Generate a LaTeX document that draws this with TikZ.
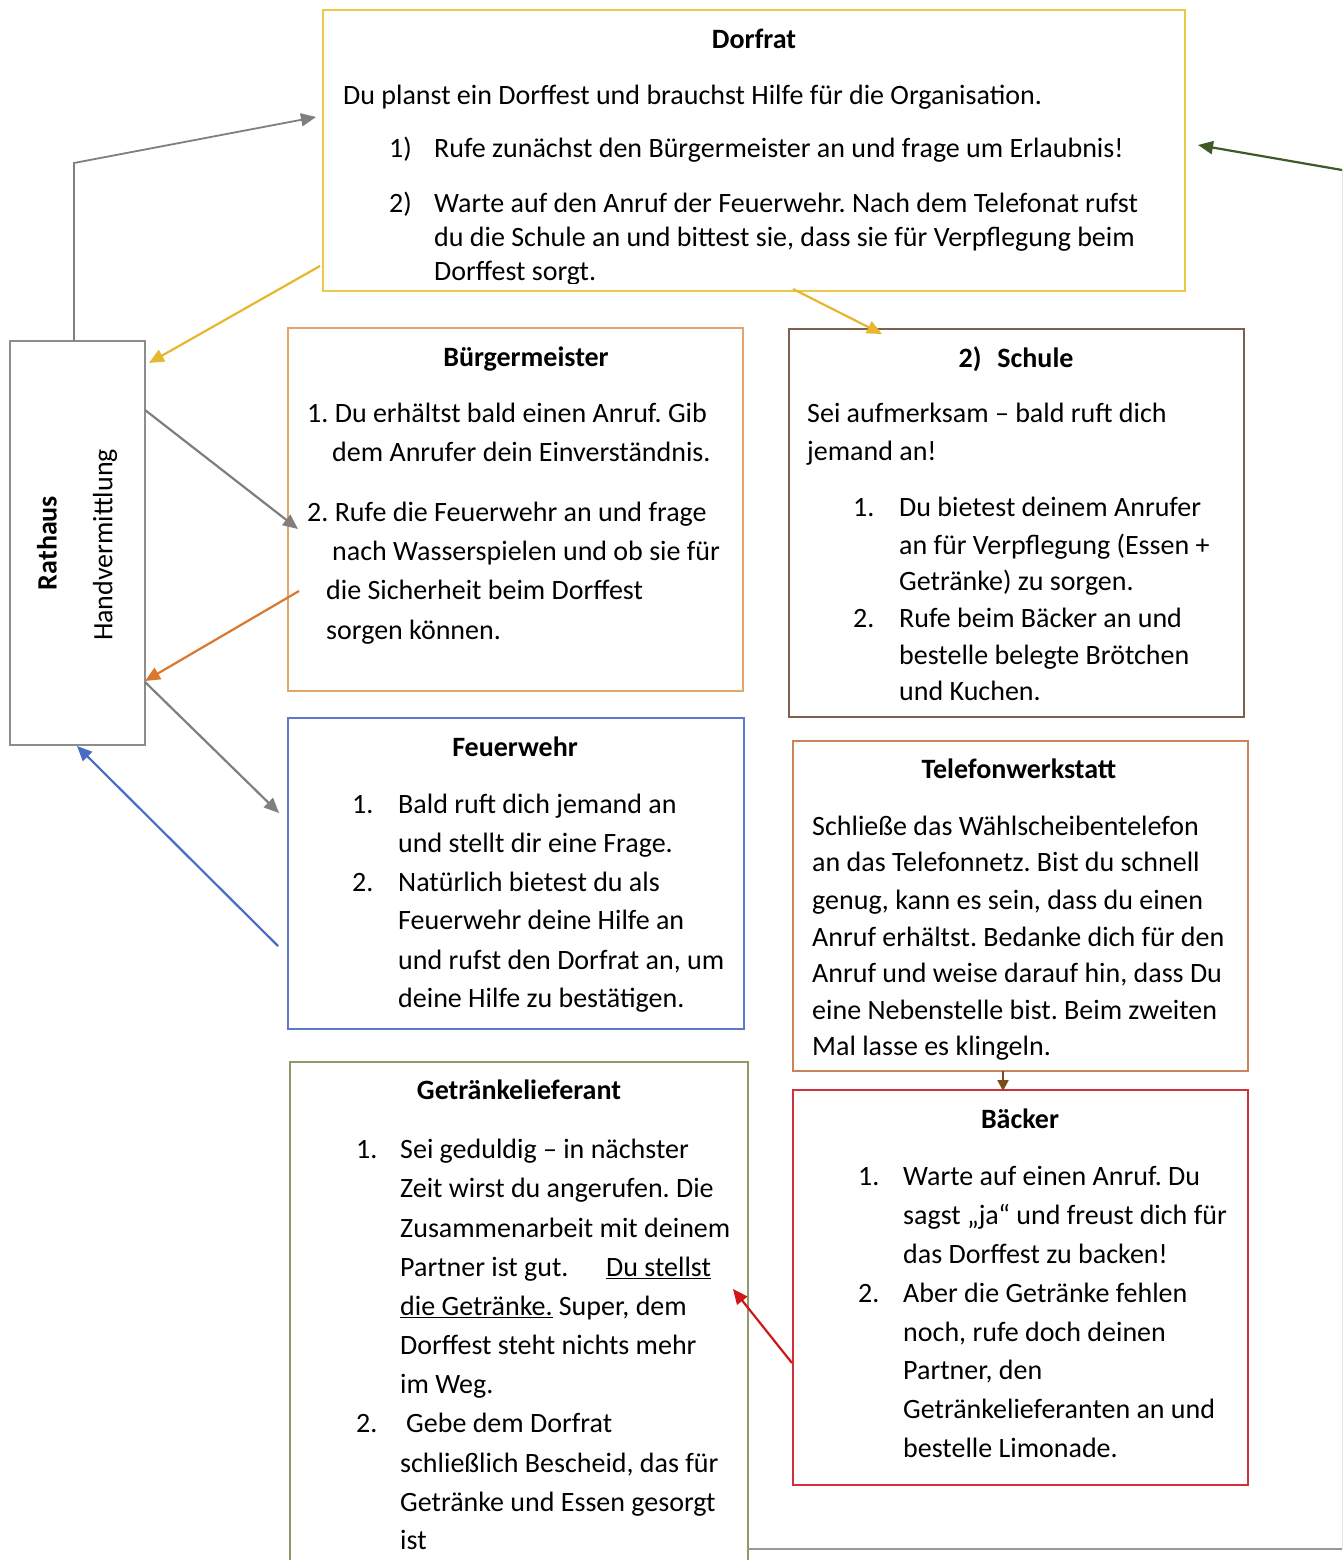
\documentclass[tikz,border=0pt]{standalone}
\usepackage{fontspec}
\setmainfont{Carlito}
\usetikzlibrary{arrows.meta}
\frenchspacing
\definecolor{cDorf}{HTML}{E9C84A}
\definecolor{cYel}{HTML}{E5B830}
\definecolor{cGray}{HTML}{8C8C8C}
\definecolor{cArrGray}{HTML}{7F7F7F}
\definecolor{cBuerg}{HTML}{E2A56A}
\definecolor{cOrg}{HTML}{D9782E}
\definecolor{cSchule}{HTML}{7F6050}
\definecolor{cFeuer}{HTML}{5B7BC8}
\definecolor{cBlue}{HTML}{4A6CC4}
\definecolor{cTel}{HTML}{C8845A}
\definecolor{cBrown}{HTML}{7F4A1A}
\definecolor{cBaeck}{HTML}{D0303A}
\definecolor{cRed}{HTML}{D01818}
\definecolor{cGetr}{HTML}{8E9A6A}
\definecolor{cGreen}{HTML}{3D5A28}
\newcommand\txtnode[4]{\node[txt] (#1) at (#2,#3) {#4};}
\newcommand\ttlnode[4]{\node[ttl] (#1) at (#2,#3) {#4};}
\begin{document}
\begin{tikzpicture}[x=1pt,y=-1pt,
  box/.style={draw=#1, line width=2pt, inner sep=0pt, outer sep=0pt, fill=none},
  txt/.style={anchor=base west, inner sep=0pt, yshift=-1.5pt, font=\fontsize{28}{33}\selectfont},
  ttl/.style={anchor=base, inner sep=0pt, yshift=-1.5pt, font=\fontsize{28}{33}\selectfont\bfseries},
  arr/.style={line width=2.2pt, -{Triangle[length=15pt,width=13pt]}},
]
\clip (0,0) rectangle (1343,1560);
\fill[white] (0,0) rectangle (1343,1560);

% boxes
\node[box=cDorf, minimum width=862pt, minimum height=281pt] (dorf) at (754,150.5) {};
\node[box=cGray, minimum width=135pt, minimum height=404pt] (rat) at (77.5,543) {};
\node[box=cBuerg, minimum width=455pt, minimum height=363pt] (buerg) at (515.5,509.5) {};
\node[box=cSchule, minimum width=455pt, minimum height=388pt] (schule) at (1016.5,523) {};
\node[box=cFeuer, minimum width=456pt, minimum height=311pt] (feuer) at (516,873.5) {};
\node[box=cTel, minimum width=455pt, minimum height=330pt] (tel) at (1020.5,906) {};
\node[box=cBaeck, minimum width=455pt, minimum height=395pt] (baeck) at (1020.5,1287.5) {};
\node[box=cGetr, minimum width=458pt, minimum height=530pt] (getr) at (519,1327) {};

% Dorfrat text
\ttlnode{d0}{754}{47}{Dorfrat}
\txtnode{d1}{343}{103}{Du planst ein Dorffest und brauchst Hilfe für die Organisation.}
\txtnode{d2n}{389}{156}{1)}
\txtnode{d2}{434}{156}{Rufe zunächst den Bürgermeister an und frage um Erlaubnis!}
\txtnode{d3n}{389}{211}{2)}
\txtnode{d3}{434}{211}{Warte auf den Anruf der Feuerwehr. Nach dem Telefonat rufst}
\txtnode{d4}{434}{245}{du die Schule an und bittest sie, dass sie für Verpflegung beim}
\begin{scope}
\clip (323,10) rectangle (1185,283);
\txtnode{d5}{434}{279}{Dorffest sorgt.}
\end{scope}

% Rathaus text
\node[rotate=90, inner sep=0pt, font=\fontsize{28}{33}\selectfont\bfseries] (r1) at (47,543) {Rathaus};
\node[rotate=90, inner sep=0pt, font=\fontsize{28}{33}\selectfont] (r2) at (105,545) {Handvermittlung};

% Buergermeister text
\ttlnode{b0}{526}{365}{Bürgermeister}
\txtnode{b1}{307}{421}{1. Du erhältst bald einen Anruf. Gib}
\txtnode{b2}{332}{460}{dem Anrufer dein Einverständnis.}
\txtnode{b3}{307}{520}{2. Rufe die Feuerwehr an und frage}
\txtnode{b4}{332}{559}{nach Wasserspielen und ob sie für}
\txtnode{b5}{326}{598}{die Sicherheit beim Dorffest}
\txtnode{b6}{326}{638}{sorgen können.}

% Schule text
\ttlnode{s0}{1016}{366}{2)\hspace{16pt}Schule}
\txtnode{s1}{807}{421}{Sei aufmerksam – bald ruft dich}
\txtnode{s2}{807}{459}{jemand an!}
\txtnode{s3n}{853}{515}{1.}
\txtnode{s3}{899}{515}{Du bietest deinem Anrufer}
\txtnode{s4}{899}{553}{an für Verpflegung (Essen +}
\txtnode{s5}{899}{589}{Getränke) zu sorgen.}
\txtnode{s6n}{853}{626}{2.}
\txtnode{s6}{899}{626}{Rufe beim Bäcker an und}
\txtnode{s7}{899}{663}{bestelle belegte Brötchen}
\txtnode{s8}{899}{699}{und Kuchen.}

% Feuerwehr text
\ttlnode{f0}{515}{755}{Feuerwehr}
\txtnode{f1n}{352}{812}{1.}
\txtnode{f1}{398}{812}{Bald ruft dich jemand an}
\txtnode{f2}{398}{851}{und stellt dir eine Frage.}
\txtnode{f3n}{352}{890}{2.}
\txtnode{f3}{398}{890}{Natürlich bietest du als}
\txtnode{f4}{398}{928}{Feuerwehr deine Hilfe an}
\txtnode{f5}{398}{968}{und rufst den Dorfrat an, um}
\txtnode{f6}{398}{1006}{deine Hilfe zu bestätigen.}

% Telefonwerkstatt text
\ttlnode{t0}{1019}{777}{Telefonwerkstatt}
\txtnode{t1}{812}{834}{Schließe das Wählscheibentelefon}
\txtnode{t2}{812}{870}{an das Telefonnetz. Bist du schnell}
\txtnode{t3}{812}{908}{genug, kann es sein, dass du einen}
\txtnode{t4}{812}{945}{Anruf erhältst. Bedanke dich für den}
\txtnode{t5}{812}{981}{Anruf und weise darauf hin, dass Du}
\txtnode{t6}{812}{1018}{eine Nebenstelle bist. Beim zweiten}
\txtnode{t7}{812}{1054}{Mal lasse es klingeln.}

% Baecker text
\ttlnode{k0}{1020}{1127}{Bäcker}
\txtnode{k1n}{858}{1184}{1.}
\txtnode{k1}{903}{1184}{Warte auf einen Anruf. Du}
\txtnode{k2}{903}{1223}{sagst „ja“ und freust dich für}
\txtnode{k3}{903}{1262}{das Dorffest zu backen!}
\txtnode{k4n}{858}{1301}{2.}
\txtnode{k4}{903}{1301}{Aber die Getränke fehlen}
\txtnode{k5}{903}{1340}{noch, rufe doch deinen}
\txtnode{k6}{903}{1378}{Partner, den}
\txtnode{k7}{903}{1417}{Getränkelieferanten an und}
\txtnode{k8}{903}{1456}{bestelle Limonade.}

% Getraenkelieferant text
\ttlnode{g0}{519}{1098}{Getränkelieferant}
\txtnode{g1n}{356}{1157}{1.}
\txtnode{g1}{400}{1157}{Sei geduldig – in nächster}
\txtnode{g2}{400}{1196}{Zeit wirst du angerufen. Die}
\txtnode{g3}{400}{1236}{Zusammenarbeit mit deinem}
\txtnode{g4}{400}{1275}{Partner ist gut.}
\txtnode{g4b}{606}{1275}{\underline{Du stellst}}
\txtnode{g5}{400}{1314}{\underline{die Getränke.} Super, dem}
\txtnode{g6}{400}{1353}{Dorffest steht nichts mehr}
\txtnode{g7}{400}{1392}{im Weg.}
\txtnode{g8n}{356}{1431}{2.}
\txtnode{g8}{406}{1431}{Gebe dem Dorfrat}
\txtnode{g9}{400}{1471}{schließlich Bescheid, das für}
\txtnode{g10}{400}{1510}{Getränke und Essen gesorgt}
\txtnode{g11}{400}{1548}{ist}

% connector end points
\coordinate (c1a) at (74,341);
\coordinate (c1b) at (74,163);
\coordinate (c1c) at (316,117);
\coordinate (c2a) at (320,266);
\coordinate (c2b) at (149,363);
\coordinate (c3a) at (793,289);
\coordinate (c3b) at (882,334);
\coordinate (c4a) at (145,410);
\coordinate (c4b) at (298,529);
\coordinate (c5a) at (299,591);
\coordinate (c5b) at (145,681);
\coordinate (c6a) at (145,682);
\coordinate (c6b) at (279,813);
\coordinate (c7a) at (278,946);
\coordinate (c7b) at (77,746);
\coordinate (c8a) at (1003,1071);
\coordinate (c8b) at (1003,1091);
\coordinate (c9a) at (792,1363);
\coordinate (c9b) at (733,1289);
\coordinate (c10a) at (748,1549);
\coordinate (c10b) at (1342,1549);
\coordinate (c10c) at (1342,170);
\coordinate (c10d) at (1198,145);

% connectors
\draw[arr, cArrGray, line width=1.8pt] (c1a) -- (c1b) -- (c1c);
\draw[arr, cYel] (c2a) -- (c2b);
\draw[arr, cYel] (c3a) -- (c3b);
\draw[arr, cArrGray] (c4a) -- (c4b);
\draw[arr, cOrg] (c5a) -- (c5b);
\draw[arr, cArrGray] (c6a) -- (c6b);
\draw[arr, cBlue] (c7a) -- (c7b);
\draw[arr, cBrown, -{Triangle[length=11pt,width=11pt]}] (c8a) -- (c8b);
\draw[arr, cRed] (c9a) -- (c9b);
\draw[line width=2pt, cArrGray!80] (c10a) -- (c10b);
\draw[line width=1pt, black!10] (c10b) -- (c10c);
\draw[arr, cGreen] (c10c) -- (c10d);
\end{tikzpicture}
\end{document}
